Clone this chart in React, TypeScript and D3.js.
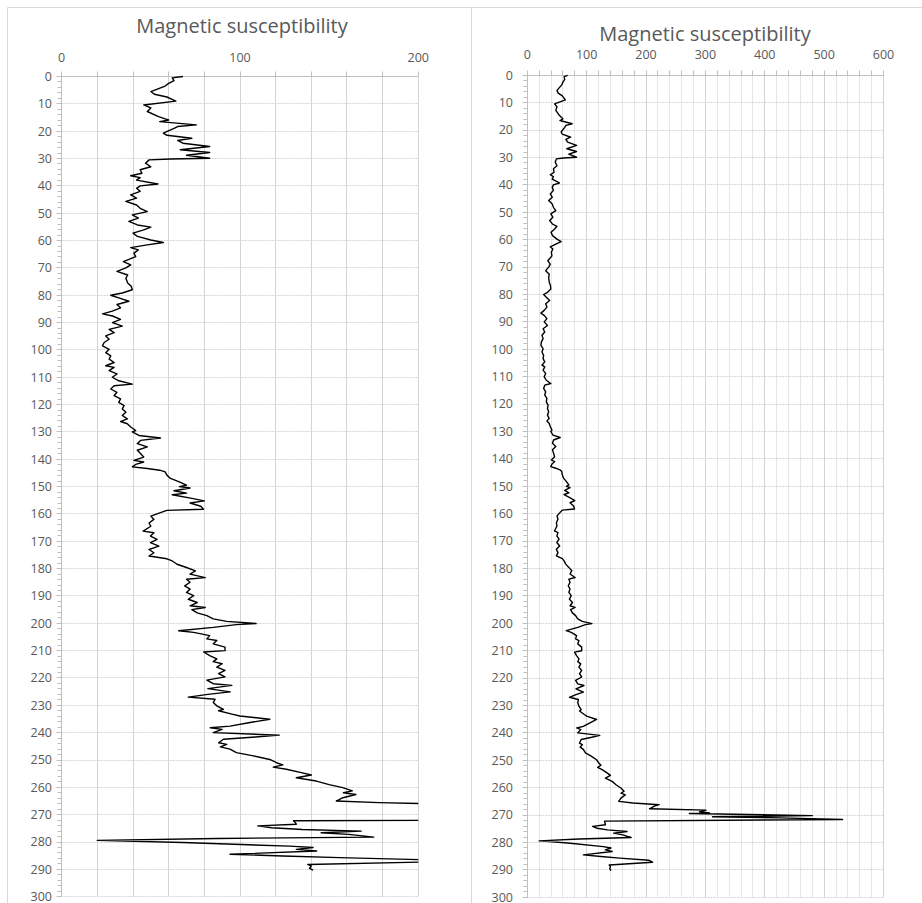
import React from "react";
import * as d3 from "d3";

const depths: number[] = [
  0, 0.5, 1.5, 2.5, 3.5, 4.5, 5.5, 6.5, 7.5, 9,
  10.4, 11.5, 12.8, 14.6, 15.5, 15.9, 16.5, 17.7, 18.3, 19,
  20.7, 21.5, 22.6, 23.4, 24.4, 25.6, 26.8, 27.8, 28.8, 29.9,
  30.2, 30.5, 31.7, 33, 34.1, 35.4, 36.3, 37, 37.9, 39.3,
  40, 40.9, 42, 43.3, 44.5, 45.7, 47, 48.2, 49.4, 50.6,
  51.8, 53, 54.3, 55.1, 56.1, 57.3, 58.5, 59.8, 60.7, 61.6,
  62.6, 63.4, 64.6, 65.9, 67.7, 68.9, 70, 71.3, 72.6, 73.8,
  75.5, 76.7, 78, 79.2, 80, 81, 82.2, 83.4, 84.6, 85.8,
  86.8, 87.6, 88.8, 90, 91.3, 92.5, 93.7, 94.9, 96.1, 97.3,
  98.5, 99.8, 101, 102.2, 103.4, 104.6, 105.8, 106.4, 107.6, 108.8,
  110, 111.3, 112.5, 113.1, 114.3, 115.5, 116.7, 117.9, 119.2, 120.4,
  121.6, 122.8, 124, 125.2, 126.2, 127, 128.2, 129.5, 130, 131.3,
  132.2, 133.1, 134.3, 135.5, 136.7, 137.9, 139.2, 140.4, 141, 141.9,
  142.8, 143.4, 144, 144.6, 145.8, 147, 148.2, 149.5, 150, 150.5,
  151.5, 152.4, 153, 154.3, 155.2, 156, 157.2, 158.3, 158.7, 159.6,
  160.8, 162, 163.3, 164.5, 166.3, 166.9, 168.1, 169.3, 170.5, 171.8,
  173, 174.2, 175.4, 176.4, 177.2, 178.4, 179.6, 180.8, 182, 183.3,
  183.9, 185, 186.3, 187.5, 188.7, 189.9, 191.2, 192.4, 193.6, 194.2,
  195, 196.2, 197.2, 198.4, 199.3, 200.1, 200.5, 201.5, 202.7, 203.3,
  204.5, 205.7, 206.3, 207.5, 208.7, 210, 210.5, 211.8, 213, 214,
  214.8, 216, 217.2, 218.4, 219.6, 220.8, 222.1, 222.7, 223.9, 225.1,
  226, 227, 227.8, 229, 230.2, 231.5, 232, 233.3, 233.9, 235.1,
  236.3, 237.6, 238.2, 238.8, 240, 240.9, 241.6, 242.4, 243.7, 244.3,
  245.2, 246, 247.3, 248.5, 249.8, 251, 251.8, 252.6, 253.4, 254.6,
  255.5, 256.5, 257.7, 259, 260.1, 261.3, 262, 262.6, 263.8, 265,
  265.6, 266.2, 266.7, 267.7, 268.2, 268.8, 269.2, 269.4, 270.2, 270.6,
  271, 271.6, 272.2, 272.9, 273.5, 274.1, 274.8, 275.4, 276, 276.6,
  277.2, 278.2, 278.7, 279.4, 280.2, 281.5, 282, 282.7, 283.3, 284.5,
  285.1, 285.7, 286.5, 287.2, 288.2, 288.8, 289.6, 290.3,
];

const susceptibility: number[] = [
  68, 62, 63, 60, 58, 54, 50, 52, 59, 64,
  46, 50, 48, 54, 58, 60, 55, 75.5, 65, 63,
  57, 59, 73, 65, 68, 83, 66.5, 83, 70, 83,
  61, 49, 47, 50, 44, 45, 38.7, 44, 42, 54,
  44, 42, 44, 38.7, 42, 36, 42, 44, 48, 39.6,
  43, 37.7, 42.5, 50, 46, 40, 42.5, 50, 57, 48,
  38.7, 43, 40.5, 41.5, 34.6, 38.7, 36, 31, 37, 36,
  37, 39, 39.6, 34, 27.5, 32, 37.7, 31, 33, 28.4,
  22.9, 28.5, 33, 28.5, 34, 26.6, 29.4, 24.7, 26.6, 23.8,
  22.9, 26.6, 24.7, 27.5, 26.6, 29.4, 24.7, 29.4, 26.6, 31,
  28.4, 32, 39.6, 29.4, 27.5, 31, 29.4, 33, 32, 35,
  34, 36, 34, 36.8, 33, 36.8, 38.7, 41.5, 39.6, 43.3,
  55.4, 44.2, 42.4, 48, 42.4, 44.2, 46, 40.5, 46, 41.5,
  39.6, 48, 55, 58, 59, 61, 65.6, 70, 66, 72,
  63, 70, 62, 73, 80, 72, 78, 79.5, 59, 55,
  50, 51.7, 49, 50, 45.7, 51.7, 49.8, 53.5, 49.8, 54.5,
  49, 51.7, 49, 59, 62, 64.7, 70, 75, 72, 80.5,
  70, 72, 69, 72, 70, 74, 71, 76, 72, 80.5,
  73, 76, 81.4, 85, 92.6, 109, 98, 85, 65.6, 74,
  83, 81.4, 87, 85, 91.6, 91.6, 79.6, 83, 87, 85,
  90, 87, 91.6, 88, 91.6, 81.4, 85, 95.4, 82, 94.5,
  82, 71, 86, 85, 87, 90.7, 88, 96, 100, 116.7,
  105.6, 94.4, 83.3, 90, 85, 122, 108.7, 90.7, 88, 92.6,
  89, 94.4, 98, 107.5, 116.7, 120.5, 124, 118.6, 126, 134.4,
  140, 131.6, 142.8, 150, 157.6, 163, 158, 165, 157.7, 154,
  178, 222, 214, 206, 301, 290, 307, 273, 480, 312,
  425, 531, 130, 131, 131.6, 110, 117.7, 135, 168, 145.5,
  161, 175, 87, 20, 68, 128, 141, 131.6, 143, 94.4,
  124, 155.8, 205, 211, 138, 140, 139, 141,
];

const title = "Magnetic susceptibility";
const depthLabels: number[] = [0, 10, 20, 30, 40, 50, 60, 70, 80, 90, 100, 110, 120, 130, 140, 150, 160, 170, 180, 190, 200, 210, 220, 230, 240, 250, 260, 270, 280, 290, 300];
const leftXLabels: number[] = [0, 100, 200];
const rightXLabels: number[] = [0, 100, 200, 300, 400, 500, 600];

const FONT = "'Open Sans', 'Liberation Sans', sans-serif";
const TEXT = "#595959";
const GRID = "#d4d4d4";
const MINOR_GRID = "#e6e6e6";
const AXIS = "#bfbfbf";
const FRAME = "#d9d9d9";

type PanelProps = {
  id: string;
  left: number;
  right: number;
  top: number;
  bottom: number;
  xMax: number;
  xLabels: number[];
  majorStep: number;
  minorStep: number | null;
  titleX: number;
  titleY: number;
  xLabelY: number;
  yLabelX: number;
};

const crisp = (v: number) => Math.round(v - 0.5) + 0.5;

function Panel(p: PanelProps) {
  const x = d3.scaleLinear().domain([0, p.xMax]).range([p.left, p.right]);
  const y = d3.scaleLinear().domain([0, 300]).range([p.top, p.bottom]);
  const majors = d3.range(0, p.xMax + 0.001, p.majorStep);
  const minors = p.minorStep ? d3.range(0, p.xMax + 0.001, p.minorStep).filter((v) => !majors.some((m) => Math.abs(m - v) < 1e-6)) : [];
  const topTicks = p.minorStep ? d3.range(0, p.xMax + 0.001, p.minorStep) : majors;
  const yMinor = d3.range(0, 300.001, 2);
  const pts = depths.map((d, i) => [susceptibility[i], d] as [number, number]);
  const line = d3
    .line<[number, number]>()
    .x((d) => x(d[0]))
    .y((d) => y(d[1]));
  const x0 = crisp(x(0));
  const y0 = crisp(y(0));
  return (
    <g>
      <defs>
        <clipPath id={p.id}>
          <rect x={p.left} y={p.top - 2} width={p.right - p.left} height={p.bottom - p.top + 4} />
        </clipPath>
      </defs>
      <text x={p.titleX} y={p.titleY} textAnchor="middle" fontFamily={FONT} fontSize={20} fill={TEXT}>
        {title}
      </text>
      {minors.map((v) => (
        <line key={"mn" + v} x1={crisp(x(v))} x2={crisp(x(v))} y1={y0} y2={crisp(y(300))} stroke={MINOR_GRID} strokeWidth={1} />
      ))}
      {depthLabels.slice(1).map((d) => (
        <line key={"h" + d} x1={x0} x2={crisp(x(p.xMax))} y1={crisp(y(d))} y2={crisp(y(d))} stroke={GRID} strokeWidth={1} strokeDasharray="2,1" />
      ))}
      {majors.slice(1).map((v) => (
        <line key={"mj" + v} x1={crisp(x(v))} x2={crisp(x(v))} y1={y0} y2={crisp(y(300))} stroke={GRID} strokeWidth={1} />
      ))}
      {topTicks.map((v) => (
        <line key={"tt" + v} x1={crisp(x(v))} x2={crisp(x(v))} y1={y0 - 5} y2={y0} stroke={AXIS} strokeWidth={1} />
      ))}
      {yMinor.map((d) => (
        <line key={"yt" + d} x1={x0 - (d % 10 === 0 ? 5 : 4)} x2={x0} y1={crisp(y(d))} y2={crisp(y(d))} stroke={AXIS} strokeWidth={1} />
      ))}
      <line x1={x0} x2={crisp(x(p.xMax))} y1={y0} y2={y0} stroke={AXIS} strokeWidth={1} />
      <line x1={x0} x2={x0} y1={y0} y2={crisp(y(300))} stroke={AXIS} strokeWidth={1} />
      {p.xLabels.map((v) => (
        <text key={"xl" + v} x={x(v)} y={p.xLabelY} textAnchor="middle" fontFamily={FONT} fontSize={12.5} fill={TEXT}>
          {v}
        </text>
      ))}
      {depthLabels.map((d) => (
        <text key={"yl" + d} x={p.yLabelX} y={y(d)} dy="0.35em" textAnchor="end" fontFamily={FONT} fontSize={12.5} fill={TEXT}>
          {d}
        </text>
      ))}
      <path d={line(pts) || ""} fill="none" stroke="#000" strokeWidth={1.4} strokeLinejoin="round" clipPath={`url(#${p.id})`} />
    </g>
  );
}

export default function App() {
  return (
    <div style={{ position: "absolute", left: 0, top: 0, width: 922, height: 903, background: "#fff" }}>
      <svg width={922} height={903} style={{ display: "block" }}>
        <rect x={0} y={0} width={922} height={903} fill="#fff" />
        <line x1={7.5} x2={922} y1={7.5} y2={7.5} stroke={FRAME} />
        <line x1={7.5} x2={7.5} y1={7.5} y2={903} stroke={FRAME} />
        <line x1={471.5} x2={471.5} y1={7.5} y2={903} stroke={FRAME} />
        <Panel
          id="clipL"
          left={61.7}
          right={418.3}
          top={76.5}
          bottom={896.7}
          xMax={200}
          xLabels={leftXLabels}
          majorStep={20}
          minorStep={null}
          titleX={242}
          titleY={33}
          xLabelY={62}
          yLabelX={52}
        />
        <Panel
          id="clipR"
          left={527.3}
          right={883.5}
          top={75.3}
          bottom={897.3}
          xMax={600}
          xLabels={rightXLabels}
          majorStep={100}
          minorStep={20}
          titleX={705}
          titleY={41}
          xLabelY={59}
          yLabelX={513}
        />
      </svg>
    </div>
  );
}
